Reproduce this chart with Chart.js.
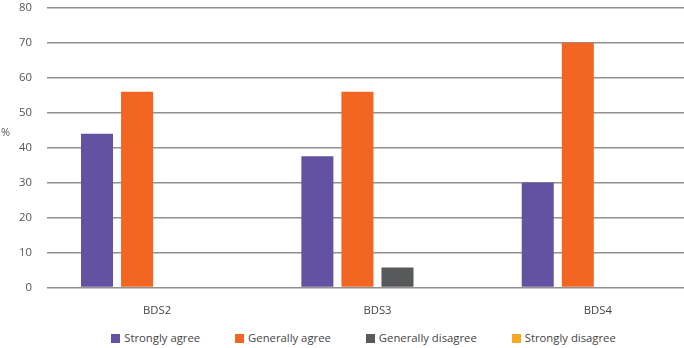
<!DOCTYPE html>
<html>
<head>
<meta charset="utf-8">
<script src="https://cdn.jsdelivr.net/npm/chart.js@4"></script>
<style>
  html, body { margin: 0; padding: 0; background: #fff; overflow: hidden; }
  #wrap { position: relative; width: 727px; height: 348px; }
  #chartBox { position: absolute; left: 0; top: -14px; width: 727px; height: 341px; }
  #legend {
    position: absolute; left: 0; top: 331px; width: 727px; height: 14px;
    display: flex; justify-content: center; gap: 35px;
    font: 11.3px "Open Sans"; line-height: 14px; color: #444;
  }
  #legend span.item { display: flex; align-items: center; white-space: nowrap; }
  #legend span.box { display: inline-block; width: 9px; height: 9px; margin-right: 4px; }
</style>
</head>
<body>
<div id="wrap">
  <div id="chartBox"><canvas id="surveyChart"></canvas></div>
  <div id="legend"></div>
</div>
<script>
// chart data
const categories = ['BDS2', 'BDS3', 'BDS4'];
const seriesNames = ['Strongly agree', 'Generally agree', 'Generally disagree', 'Strongly disagree'];
const stronglyAgree = [44, 37.5, 30];
const generallyAgree = [56, 56, 70];
const generallyDisagree = [0, 5.7, 0];
const stronglyDisagree = [0, 0, 0];
const yTicks = [0, 10, 20, 30, 40, 50, 60, 70, 80];
const colors = ['#6352a2', '#f26522', '#58595b', '#f7a823'];

const font = { family: 'Open Sans', size: 11.3 };

// "%" label drawn on the left, not rotated
const percentLabel = {
  id: 'percentLabel',
  afterDraw(chart) {
    const c = chart.ctx;
    c.save();
    c.font = '11px "Open Sans"';
    c.fillStyle = '#555';
    c.textBaseline = 'middle';
    c.fillText('%', 1, 147);
    c.restore();
  }
};

document.addEventListener('DOMContentLoaded', () => {
  const values = [stronglyAgree, generallyAgree, generallyDisagree, stronglyDisagree];
  const ctx = document.getElementById('surveyChart');
  const chart = new Chart(ctx, {
    type: 'bar',
    data: {
      labels: categories,
      datasets: seriesNames.map((name, i) => ({
        label: name, data: values[i], backgroundColor: colors[i]
      }))
    },
    options: {
      responsive: true,
      maintainAspectRatio: false,
      animation: false,
      datasets: { bar: { categoryPercentage: 0.727, barPercentage: 0.8 } },
      layout: { padding: { top: 0, right: 19, left: 4, bottom: 0 } },
      plugins: {
        tooltip: { enabled: false },
        legend: { display: false }
      },
      scales: {
        x: {
          grid: { display: false },
          border: { display: false },
          ticks: { color: '#444', font: font, padding: 9 }
        },
        y: {
          min: 0,
          max: 80,
          afterBuildTicks: (axis) => { axis.ticks = yTicks.map(v => ({ value: v })); },
          grid: { color: '#909090', lineWidth: 1.5, drawTicks: false },
          border: { display: false },
          ticks: { color: '#555', font: font, padding: 15 }
        }
      }
    },
    plugins: [percentLabel]
  });

  // html legend built from the datasets
  const legend = document.getElementById('legend');
  chart.data.datasets.forEach(ds => {
    const item = document.createElement('span');
    item.className = 'item';
    item.innerHTML = '<span class="box" style="background:' + ds.backgroundColor + '"></span>' + ds.label;
    legend.appendChild(item);
  });
});
</script>
</body>
</html>
